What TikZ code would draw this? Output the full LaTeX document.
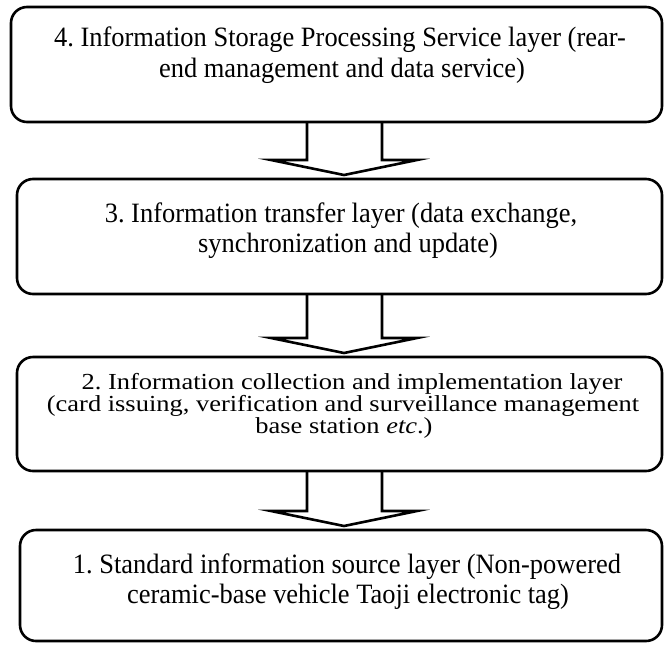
\documentclass[tikz,border=0pt]{standalone}
\usepackage{fontspec}
\setmainfont{Liberation Serif}[FakeStretch=0.945]
\usetikzlibrary{calc}
\frenchspacing
\begin{document}
\begin{tikzpicture}[x=1pt,y=-1pt,
  layerbox/.style={draw, line width=2.6pt, rounded corners=16pt,
    inner sep=0pt, outer sep=0pt, anchor=north west},
  linetext/.style={anchor=base, inner sep=0pt,
    font=\fontsize{28}{31}\selectfont},
  squashed/.style={anchor=base, inner sep=0pt,
    font=\fontsize{28}{31}\selectfont},
  downarrow/.style={draw, line width=2.6pt, line join=miter}]
\useasboundingbox (0,0) rectangle (664,646);

% layer boxes
\node[layerbox, minimum width=651pt, minimum height=115pt] (b4) at (11,7) {};
\node[layerbox, minimum width=645pt, minimum height=115pt] (b3) at (17,179) {};
\node[layerbox, minimum width=645pt, minimum height=114pt] (b2) at (17,357) {};
\node[layerbox, minimum width=642pt, minimum height=111pt] (b1) at (20,530) {};

% layer texts
\node[linetext] (t4a) at (340,46) {4. Information Storage Processing Service layer (rear-};
\node[linetext] (t4b) at (342,77) {end management and data service)};
\node[linetext] (t3a) at (341,222) {3. Information transfer layer (data exchange,};
\node[linetext] (t3b) at (348,252) {synchronization and update)};
\node[squashed] (t2a) at (352,389) {\scalebox{1}[0.82]{2. Information collection and implementation layer}};
\node[squashed] (t2b) at (343,411) {\scalebox{1}[0.82]{(card issuing, verification and surveillance management}};
\node[squashed] (t2c) at (344,433) {\scalebox{1}[0.82]{base station \textit{etc}.)}};
\node[linetext] (t1a) at (347,573) {1. Standard information source layer (Non-powered};
\node[linetext] (t1b) at (348,603) {ceramic-base vehicle Taoji electronic tag)};

% shaft and tip x positions of the block arrows
\coordinate (cl) at (307,0);
\coordinate (cr) at (382,0);
\coordinate (ct) at (344,0);

% block arrows between layers
\foreach \up/\down in {b4/b3, b3/b2, b2/b1} {
  \draw[downarrow] (\up.south -| cl) -- ($(\down.north -| cl)+(0,-19)$)
    -- ++(-36,0) -- ($(\down.north -| ct)+(0,-4)$) -- ++(73,-15)
    -- ++(-35,0) -- (\up.south -| cr);
}
\end{tikzpicture}
\end{document}
